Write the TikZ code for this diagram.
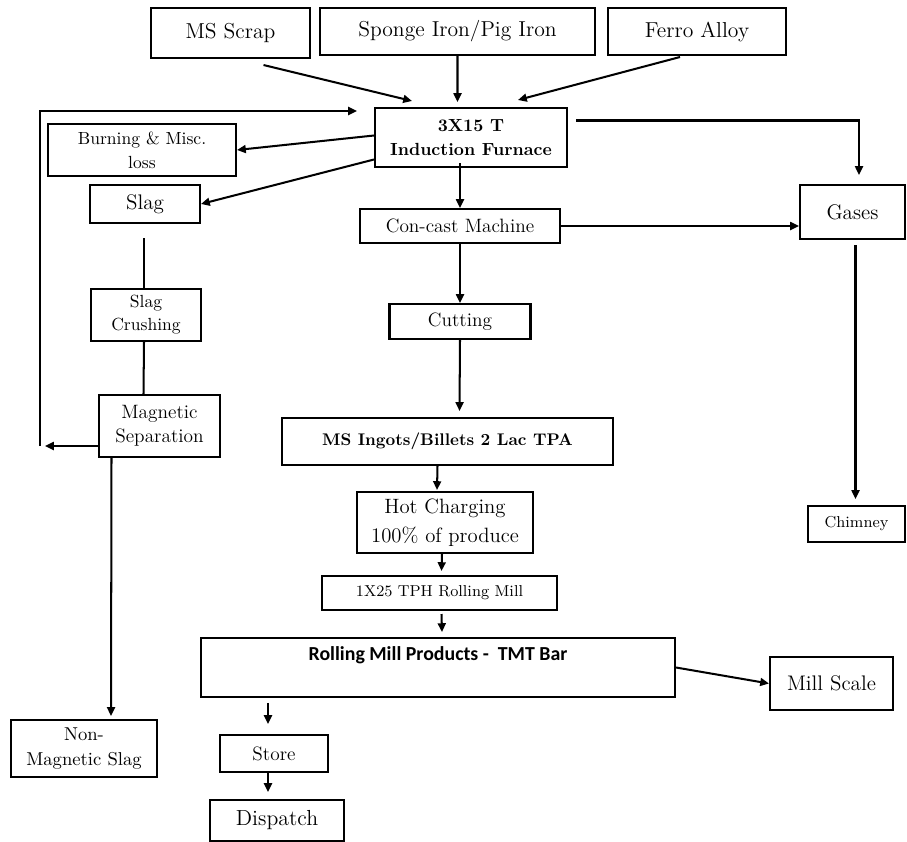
\documentclass[tikz,border=0pt]{standalone}
\usepackage{fontspec}
\newfontfamily\calibri{Carlito}
\usetikzlibrary{arrows.meta}
\tikzset{sized/.style 2 args={minimum width=#1*0.02cm, minimum height=#2*0.02cm}}

\begin{document}
\begin{tikzpicture}[x=0.02cm, y=-0.02cm, line width=1.15pt, ->,
    >={Triangle[length=5pt, width=4.5pt]},
    nodes={draw, align=center, inner sep=0pt}]
        \useasboundingbox (0,0) rectangle (907,842);

        \node[sized={159}{50}, font=\fontsize{12.3}{14}\selectfont] (scrap) at (230.5,33) {MS Scrap};
        \node[sized={275}{47}, font=\fontsize{12.3}{14}\selectfont] (sponge) at (457.5,31.5) {Sponge Iron/Pig Iron};
        \node[sized={178}{47}, font=\fontsize{12.3}{14}\selectfont] (ferro) at (697,31.5) {Ferro Alloy};
        \node[sized={192}{59}, font=\fontsize{10}{13.5}\selectfont\bfseries] (furnace) at (471,137.5) {3X15 T\\Induction Furnace};
        \node[sized={188}{52}, font=\fontsize{10}{13.5}\selectfont] (burning) at (142,150) {Burning \& Misc.\\loss};
        \node[sized={110}{38}, font=\fontsize{12}{14}\selectfont] (slag) at (145,204) {Slag};
        \node[sized={200}{34}, font=\fontsize{11}{13}\selectfont] (concast) at (460,226) {Con-cast Machine};
        \node[sized={105}{54}, font=\fontsize{12}{14}\selectfont] (gases) at (852.5,212) {Gases};
        \node[sized={110}{52}, font=\fontsize{10}{13}\selectfont] (crush) at (146,315) {Slag\\Crushing};
        \node[sized={141}{35}, font=\fontsize{11}{13}\selectfont] (cutting) at (460,321.5) {Cutting};
        \node[sized={121}{62}, font=\fontsize{11}{13.6}\selectfont] (magsep) at (159.5,426) {Magnetic\\Separation};
        \node[sized={331}{47}, font=\fontsize{9.6}{12}\selectfont\bfseries] (ingots) at (447.5,441.5) {MS Ingots/Billets 2 Lac TPA};
        \node[sized={176}{61}, font=\fontsize{11.8}{16.4}\selectfont] (hot) at (445,522.5) {Hot Charging\\100\% of produce};
        \node[sized={235}{34}, font=\fontsize{9}{11}\selectfont] (rolling) at (439.5,593) {1X25 TPH Rolling Mill};
        \node[minimum width=474*0.02cm, text height=13pt, text depth=20.5pt, font=\fontsize{11.3}{13}\calibri\bfseries] (rmp) at (438,667.5) {Rolling Mill Products -\ \ TMT Bar};
        \node[sized={123}{53}, font=\fontsize{12}{14}\selectfont] (mill) at (831.5,683.5) {Mill Scale};
        \node[sized={97}{36}, font=\fontsize{9}{11}\selectfont] (chimney) at (856.5,524) {Chimney};
        \node[sized={146}{57}, font=\fontsize{10.6}{14}\selectfont] (nonmag) at (84,748.5) {Non-\\Magnetic Slag};
        \node[sized={108}{37}, font=\fontsize{11}{13}\selectfont] (store) at (274,753.5) {Store};
        \node[sized={134}{41}, font=\fontsize{12.4}{14}\selectfont] (dispatch) at (277,820.5) {Dispatch};

        \coordinate (ret) at (40,446);
        \coordinate (retin) at (357,111);

        % raw materials into the furnace
        \draw ([shift={(33,6)}]scrap.south) -- ([shift={(-59,-6)}]furnace.north);
        \draw (sponge.south) -- ([shift={(-13.5,-5)}]furnace.north);
        \draw ([shift={(-17,1)}]ferro.south) -- ([shift={(47,-7)}]furnace.north);

        % furnace outputs
        \draw ([shift={(0,-2)}]furnace.west) -- (burning.east);
        \draw ([shift={(0,22)}]furnace.west) -- (slag.east);
        \draw ([shift={(8,-17)}]furnace.east) -| ([shift={(6.5,-9)}]gases.north);
        \draw ([shift={(-11,-5)}]furnace.south) -- (concast.north);
        \draw (concast.east) -- (concast.east -| gases.west);
        \draw ([shift={(3,5)}]gases.south) -- ([shift={(-1,-6)}]chimney.north);

        % main line
        \draw (concast) -- (cutting);
        \draw (cutting.south) -- ([shift={(12,-6)}]ingots.north);
        \draw ([shift={(-10,0)}]ingots.south) -- ([shift={(-8,-1)}]hot.north);
        \draw ([shift={(-3,0)}]hot.south) -- ([shift={(2,-4)}]rolling.north);
        \draw ([shift={(2,3)}]rolling.south) -- ([shift={(4,-5)}]rmp.north);
        \draw (rmp.east) -- (mill.west);
        \draw ([shift={(-170,5)}]rmp.south) -- ([shift={(-6,-10)}]store.north);
        \draw ([shift={(-6,0)}]store.south) -- ([shift={(-9,-7)}]dispatch.north);

        % slag handling
        \draw[-] ([shift={(-1,14)}]slag.south) -- ([shift={(-2,0)}]crush.north);
        \draw[-] ([shift={(-2,0)}]crush.south) -- ([shift={(-16,0)}]magsep.north);
        \draw ([shift={(0,20)}]magsep.west) -- ([shift={(5,0)}]ret);
        \draw (ret) |- (retin);
        \draw ([shift={(-48,0)}]magsep.south) -- ([shift={(27,-3)}]nonmag.north);
      \end{tikzpicture}
\end{document}
